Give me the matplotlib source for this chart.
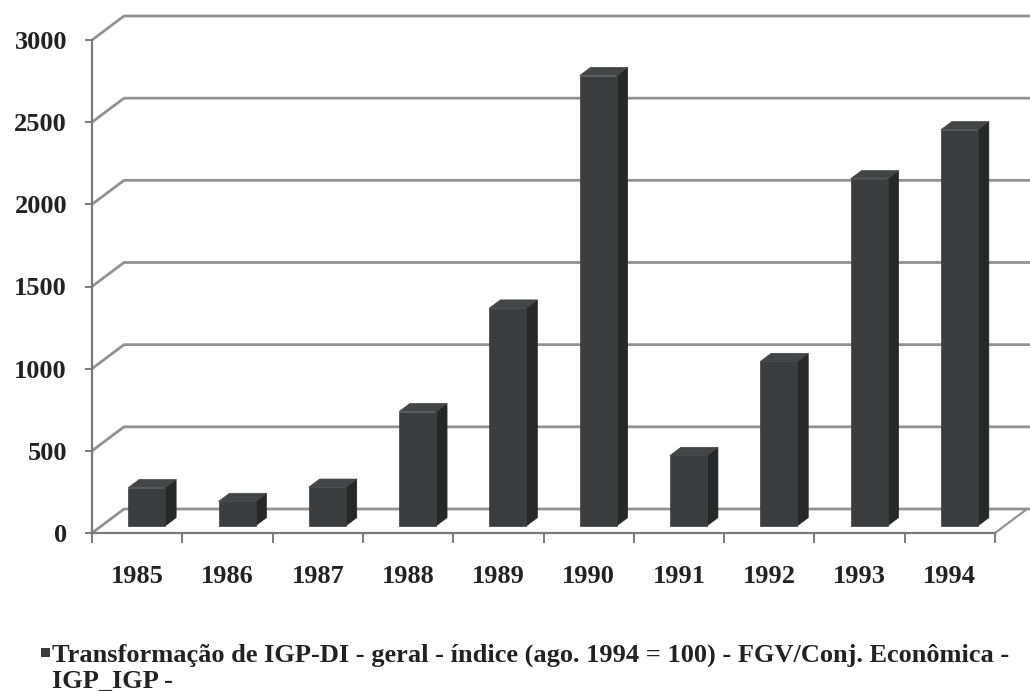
import matplotlib.pyplot as plt
import numpy as np
from matplotlib.patches import Polygon, Rectangle

years = ['1985', '1986', '1987', '1988', '1989', '1990', '1991', '1992', '1993', '1994']
values = [232, 148, 235, 695, 1325, 2740, 428, 1000, 2112, 2410]
yticks = [0, 500, 1000, 1500, 2000, 2500, 3000]
legend_label = 'Transformação de IGP-DI - geral - índice (ago. 1994 = 100) - FGV/Conj. Econômica -\nIGP_IGP -'

W, H = 1030, 691
fig = plt.figure(figsize=(W / 100, H / 100), dpi=100)

# pixel layout of the front plane
x0_px, x10_px = 92, 995
y0_px, y3000_px = 533, 40
px_cat = (x10_px - x0_px) / 10
px_val = (y0_px - y3000_px) / 3000
top_px, bot_px = 5, 560

xmax = (W - x0_px) / px_cat
ymax = (y0_px - top_px) / px_val
ymin = -(bot_px - y0_px) / px_val

ax = fig.add_axes([x0_px / W, 1 - bot_px / H, (W - x0_px) / W, (bot_px - top_px) / H])
ax.set_xlim(0, xmax)
ax.set_ylim(ymin, ymax)

# depth offset of the back wall
DX = 32 / px_cat
DY = 24 / px_val

grid_c = '#929292'
for v in yticks:
    ax.plot([0, DX, xmax], [v, v + DY, v + DY], color=grid_c, lw=2, zorder=1,
            solid_capstyle='butt', clip_on=True)
# right edge of floor
ax.plot([10, 10 + DX], [0, DY], color=grid_c, lw=1.6, zorder=1)

# 3d bars
d0, d1 = 0.30, 0.64
bw = 0.41
front_c, side_c, top_c = '#3b3e3e', '#262828', '#434646'
for i, v in enumerate(values):
    xl = i + 0.5 - bw / 2
    xr = i + 0.5 + bw / 2
    fx, fy = d0 * DX, d0 * DY
    bx, by = d1 * DX, d1 * DY
    front = [(xl + fx, fy), (xr + fx, fy), (xr + fx, v + fy), (xl + fx, v + fy)]
    side = [(xr + fx, fy), (xr + bx, by), (xr + bx, v + by), (xr + fx, v + fy)]
    top = [(xl + fx, v + fy), (xr + fx, v + fy), (xr + bx, v + by), (xl + bx, v + by)]
    ax.add_patch(Polygon(side, closed=True, fc=side_c, ec=side_c, lw=0.5, zorder=3))
    ax.add_patch(Polygon(front, closed=True, fc=front_c, ec=front_c, lw=0.5, zorder=3))
    ax.add_patch(Polygon(top, closed=True, fc=top_c, ec=top_c, lw=0.5, zorder=3))

for s in ['top', 'right']:
    ax.spines[s].set_visible(False)
ax.spines['left'].set_bounds(0, 3000)
ax.spines['bottom'].set_bounds(0, 10)
ax.spines['bottom'].set_position(('data', 0))
for s in ['left', 'bottom']:
    ax.spines[s].set_color('#7a7a7a')
    ax.spines[s].set_linewidth(1.6)
    ax.spines[s].set_zorder(4)

font = dict(family='Liberation Serif', weight='bold', size=19, color='#222222')
ax.set_yticks(yticks)
ax.set_yticklabels([str(t) for t in yticks], **font)
ax.tick_params(axis='y', direction='out', length=5, width=1.4, color='#7a7a7a', pad=13)

ax.set_xticks(np.arange(0, 11))
ax.set_xticklabels([])
ax.set_xticks(np.arange(10) + 0.5, minor=True)
ax.set_xticklabels(years, minor=True, **font)
ax.tick_params(axis='x', which='major', direction='out', length=7, width=1.4, color='#7a7a7a')
ax.tick_params(axis='x', which='minor', length=0, pad=23)

# legend
fig.patches.append(Rectangle((41 / W, 1 - 657 / H), 9 / W, 9 / H, transform=fig.transFigure,
                             fc='#3b3e3e', ec='none'))
for k, line in enumerate(legend_label.split('\n')):
    fig.text(52 / W, 1 - (662 + 26 * k) / H, line, ha='left', va='baseline',
             family='Liberation Serif', weight='bold', size=19, color='#222222')

fig.savefig('out.png', dpi=100, facecolor='white')
